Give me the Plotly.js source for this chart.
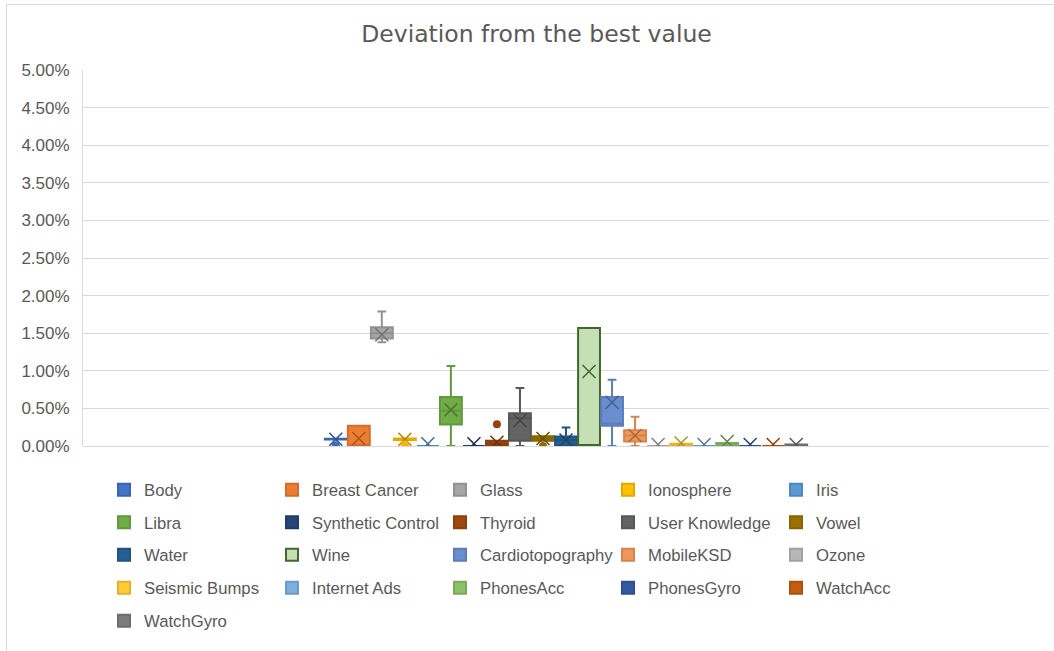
<!DOCTYPE html>
<html>
<head>
<meta charset="utf-8">
<script src="https://cdn.plot.ly/plotly-3.0.1.min.js"></script>
<style>
  html, body { margin: 0; padding: 0; background: #ffffff; overflow: hidden; }
  #chart { position: absolute; left: 0; top: 0; width: 1054px; height: 651px; }
  #frame { position: absolute; left: 6px; top: 4px; width: 1200px; height: 800px;
           border-left: 1px solid #d9d9d9; border-top: 1px solid #d9d9d9; pointer-events: none; }
</style>
</head>
<body>
<div id="chart"></div>
<div id="frame"></div>
<script>
// Datasets, in drawing order
const datasets = ["Body", "Breast Cancer", "Glass", "Ionosphere", "Iris",
  "Libra", "Synthetic Control", "Thyroid", "User Knowledge", "Vowel",
  "Water", "Wine", "Cardiotopography", "MobileKSD", "Ozone",
  "Seismic Bumps", "Internet Ads", "PhonesAcc", "PhonesGyro", "WatchAcc",
  "WatchGyro"];

// Box statistics, deviation in percent
const lowerWhisker = [0.085, 0.00, 1.38, 0.08, 0.00, 0.000, 0.00, 0.00, 0.00, 0.07, 0.000, 0.00, 0.00, 0.00, 0.00, 0.00, 0.00, 0.00, 0.00, 0.00, 0.00];
const quartile1    = [0.085, 0.00, 1.43, 0.08, 0.00, 0.285, 0.00, 0.00, 0.07, 0.07, 0.010, 0.00, 0.27, 0.06, 0.00, 0.00, 0.00, 0.00, 0.00, 0.00, 0.00];
const medians      = [0.090, 0.00, 1.50, 0.09, 0.00, 0.470, 0.00, 0.03, 0.37, 0.10, 0.080, 0.00, 0.30, 0.14, 0.00, 0.01, 0.00, 0.01, 0.00, 0.00, 0.00];
const quartile3    = [0.095, 0.27, 1.58, 0.10, 0.00, 0.650, 0.00, 0.07, 0.435, 0.13, 0.125, 1.57, 0.65, 0.21, 0.00, 0.03, 0.00, 0.04, 0.00, 0.00, 0.02];
const upperWhisker = [0.095, 0.27, 1.79, 0.10, 0.00, 1.065, 0.00, 0.07, 0.77, 0.13, 0.245, 1.57, 0.88, 0.39, 0.00, 0.03, 0.00, 0.04, 0.00, 0.00, 0.02];
const means        = [0.090, 0.10, 1.48, 0.09, 0.03, 0.480, 0.03, 0.05, 0.34, 0.10, 0.080, 0.99, 0.58, 0.14, 0.02, 0.04, 0.02, 0.06, 0.02, 0.02, 0.02];

// Points outside the whiskers
const outlierSets   = ["Body", "Ionosphere", "Thyroid", "Vowel"];
const outlierValues = [0.01, 0.02, 0.29, 0.00];

// Tick labels for the value axis
const tickValues = [0, 0.5, 1, 1.5, 2, 2.5, 3, 3.5, 4, 4.5, 5];
const tickLabels = ["0.00%", "0.50%", "1.00%", "1.50%", "2.00%", "2.50%",
  "3.00%", "3.50%", "4.00%", "4.50%", "5.00%"];

// Series palette
const fills = ["#4472C4", "#ED7D31", "#A5A5A5", "#FFC000", "#5B9BD5",
  "#70AD47", "#264478", "#9E480E", "#636363", "#997300",
  "#255E91", "#C5E0B4", "#698ED0", "#F1975A", "#B7B7B7",
  "#FFCD33", "#7CAFDD", "#8CC168", "#335AA1", "#C55A11",
  "#7C7C7C"];
const strokeOverride = { "Wine": "#43682B" };

function darken(hex, f) {
  const n = parseInt(hex.slice(1), 16);
  const r = Math.round(((n >> 16) & 255) * (1 - f));
  const g = Math.round(((n >> 8) & 255) * (1 - f));
  const b = Math.round((n & 255) * (1 - f));
  return "rgb(" + r + "," + g + "," + b + ")";
}

const textColor = "#595959";
const gridColor = "#D9D9D9";
const bodyFont = "Liberation Sans, Arial, sans-serif";

const traces = [];
datasets.forEach((name, i) => {
  const row = Math.floor(i / 5);
  const stroke = strokeOverride[name] || darken(fills[i], 0.12);
  traces.push({
    type: "box",
    name: name,
    x: [i],
    q1: [quartile1[i]],
    median: [medians[i]],
    q3: [quartile3[i]],
    lowerfence: [lowerWhisker[i]],
    upperfence: [upperWhisker[i]],
    width: 0.95,
    whiskerwidth: 0.4,
    fillcolor: fills[i],
    line: { color: stroke, width: 2 },
    boxpoints: false,
    hoverinfo: "skip",
    legend: row === 0 ? "legend" : "legend" + (row + 1),
    legendrank: i
  });
});

// Mean markers
datasets.forEach((name, i) => {
  const stroke = strokeOverride[name] || darken(fills[i], 0.3);
  traces.push({
    type: "scatter",
    mode: "markers",
    x: [i],
    y: [means[i]],
    marker: { symbol: "x-thin-open", size: 13, line: { color: stroke, width: 1.5 }, color: stroke },
    showlegend: false,
    hoverinfo: "skip"
  });
});

// Outlier dots
outlierSets.forEach((name, k) => {
  const i = datasets.indexOf(name);
  traces.push({
    type: "scatter",
    mode: "markers",
    x: [i],
    y: [outlierValues[k]],
    marker: { symbol: "circle", size: 8, color: darken(fills[i], 0.05) },
    showlegend: false,
    hoverinfo: "skip"
  });
});

// Plot area in page pixels
const plotLeft = 83, plotRight = 1049, plotTop = 70, plotBottom = 446;
const plotH = plotBottom - plotTop, plotW = plotRight - plotLeft;
const rowCenters = [490, 522.5, 555, 588, 621];
const legendLeft = 104;

const layout = {
  width: 1054,
  height: 651,
  margin: { l: plotLeft, r: 1054 - plotRight, t: plotTop, b: 651 - plotBottom, pad: 0 },
  paper_bgcolor: "#ffffff",
  plot_bgcolor: "#ffffff",
  showlegend: true,
  title: {
    text: "Deviation from the best value",
    font: { family: "DejaVu Sans, sans-serif", size: 23.5, color: textColor },
    xref: "container", yref: "container",
    x: 536.5 / 1054, xanchor: "center",
    y: 1 - 34 / 651, yanchor: "middle"
  },
  xaxis: {
    range: [-10.98, 30.98],
    showticklabels: false, showgrid: false, zeroline: false, showline: false,
    fixedrange: true
  },
  yaxis: {
    range: [0, 5],
    tickvals: tickValues,
    ticktext: tickLabels,
    showgrid: true, gridcolor: gridColor, gridwidth: 1,
    zeroline: true, zerolinecolor: gridColor, zerolinewidth: 1,
    showline: true, linecolor: gridColor, linewidth: 1,
    ticks: "",
    ticklabelstandoff: 9,
    tickfont: { family: bodyFont, size: 17, color: textColor },
    fixedrange: true
  }
};

rowCenters.forEach((cy, r) => {
  const key = r === 0 ? "legend" : "legend" + (r + 1);
  layout[key] = {
    orientation: "h",
    x: (legendLeft - plotLeft) / plotW,
    xanchor: "left",
    y: (plotBottom - cy) / plotH,
    yanchor: "middle",
    entrywidth: 123,
    entrywidthmode: "pixels",
    bgcolor: "rgba(0,0,0,0)",
    borderwidth: 0,
    font: { family: bodyFont, size: 16.7, color: textColor },
    itemclick: false,
    itemdoubleclick: false
  };
});

Plotly.newPlot("chart", traces, layout, { displayModeBar: false, staticPlot: true });
</script>
</body>
</html>
